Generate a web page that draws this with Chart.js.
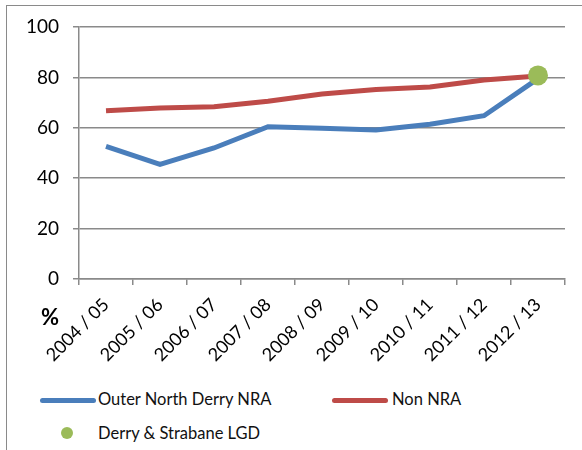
<!DOCTYPE html>
<html><head><meta charset="utf-8">
<script src="https://cdn.jsdelivr.net/npm/chart.js@4/dist/chart.umd.min.js"></script>
<style>
html,body{margin:0;padding:0;background:#fff;}
#wrap{position:relative;width:582px;height:450px;overflow:hidden;font-family:Lato,"Open Sans",sans-serif;}
#frame{position:absolute;left:6px;top:5px;width:600px;height:460px;border-left:1.5px solid #8a8a8a;border-top:1.5px solid #8a8a8a;}
#cv{position:absolute;left:0;top:0;}
.pct{position:absolute;left:41px;top:303px;font-weight:bold;font-size:22px;color:#000;}
.leg{position:absolute;font-size:16.5px;color:#111;white-space:nowrap;}
.ln{position:absolute;height:5px;border-radius:3px;}
.dot{position:absolute;width:12px;height:12px;border-radius:50%;background:#9BBB59;}
</style></head>
<body><div id="wrap">
<div id="frame"></div>
<canvas id="cv" width="582" height="365"></canvas>
<div class="pct">%</div>
<div class="ln" style="left:40px;top:398px;width:56px;background:#4A7EBB"></div>
<div class="leg" style="left:98px;top:389px;">Outer North Derry NRA</div>
<div class="ln" style="left:332px;top:398px;width:56px;background:#BE4B48"></div>
<div class="leg" style="left:392px;top:389px;">Non NRA</div>
<div class="dot" style="left:61px;top:427px;"></div>
<div class="leg" style="left:98px;top:423px;">Derry &amp; Strabane LGD</div>
</div>
<script>
const categories = ["2004 / 05","2005 / 06","2006 / 07","2007 / 08","2008 / 09","2009 / 10","2010 / 11","2011 / 12","2012 / 13"];
const outerNorthDerry = [52.6, 45.5, 52.0, 60.4, 59.8, 59.1, 61.4, 64.8, 79.5];
const nonNRA = [66.8, 67.9, 68.4, 70.5, 73.4, 75.2, 76.2, 79.0, 80.6];
const derryStrabane = [null, null, null, null, null, null, null, null, 80.8];
const yTicks = [0, 20, 40, 60, 80, 100];

new Chart(document.getElementById('cv'), {
  type: 'line',
  data: {
    labels: categories,
    datasets: [
      {label:'Derry & Strabane LGD', data: derryStrabane, showLine:false, pointRadius:10, pointBackgroundColor:'#9BBB59', pointBorderColor:'#9BBB59', pointBorderWidth:0, order:0},
      {label:'Outer North Derry NRA', data: outerNorthDerry, borderColor:'#4A7EBB', borderWidth:5, pointRadius:0, tension:0, order:1},
      {label:'Non NRA', data: nonNRA, borderColor:'#BE4B48', borderWidth:5, pointRadius:0, tension:0, order:2}
    ]
  },
  options: {
    responsive:false, animation:false,
    layout:{padding:{top:27,right:17,left:0,bottom:0}},
    plugins:{legend:{display:false}, tooltip:{enabled:false}},
    scales:{
      x:{
        offset:true,
        grid:{display:true, drawOnChartArea:false, offset:true, color:'#8a8a8a', lineWidth:1.5, tickLength:6},
        border:{color:'#8a8a8a', width:1.5},
        ticks:{maxRotation:45, minRotation:45, color:'#000', font:{family:'Lato', size:18}, padding:9, autoSkip:false},
        afterFit:(s)=>{s.height = 86;}
      },
      y:{
        min:0, max:100,
        afterBuildTicks:(s)=>{s.ticks = yTicks.map(v=>({value:v}));},
        grid:{color:'#8a8a8a', lineWidth:1.5, tickLength:6},
        border:{color:'#8a8a8a', width:1.5},
        ticks:{color:'#000', font:{family:'Lato', size:19}, padding:14},
        afterFit:(s)=>{s.width = 79;}
      }
    }
  }
});
</script>
</body></html>
